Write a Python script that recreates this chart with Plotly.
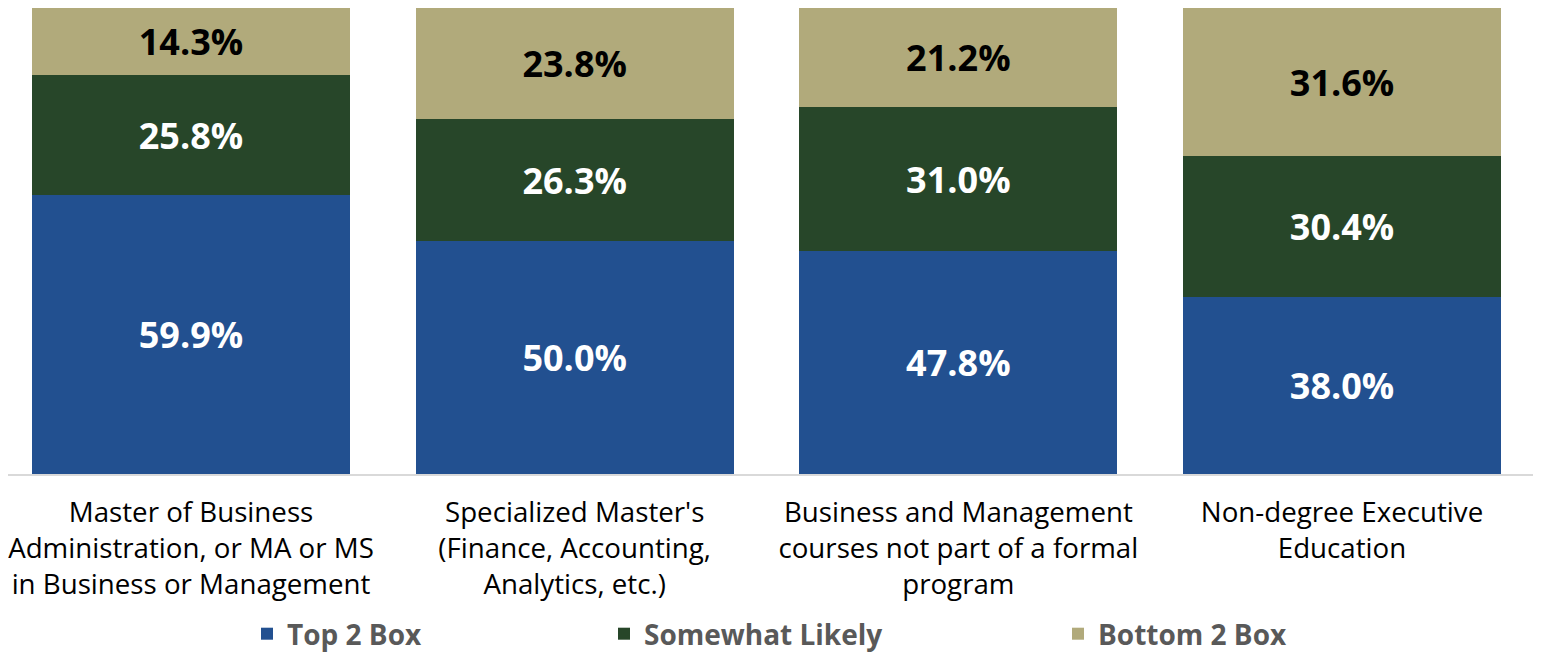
import plotly.graph_objects as go

categories = [
    "Master of Business<br>Administration, or MA or MS<br>in Business or Management",
    "Specialized Master's<br>(Finance, Accounting,<br>Analytics, etc.)",
    "Business and Management<br>courses not part of a formal<br>program",
    "Non-degree Executive<br>Education",
]
top2 = [59.9, 50.0, 47.8, 38.0]
somewhat = [25.8, 26.3, 31.0, 30.4]
bottom2 = [14.3, 23.8, 21.2, 31.6]

series_names = ["Top 2 Box", "Somewhat Likely", "Bottom 2 Box"]
series_values = [top2, somewhat, bottom2]
series_colors = ["#225090", "#274629", "#b1aa7b"]
label_colors = ["#ffffff", "#ffffff", "#000000"]
legend_ids = ["legend", "legend2", "legend3"]

FONT = "Open Sans"
# page body has an 8px margin, so the figure is drawn 8px smaller and offset
OFF = 8
W, H = 1546 - OFF, 652 - OFF
ML, MR, MT, MB = 0, 13, 0, 178
PW = W - ML - MR
PH = H - MT - MB

# category axis range so that centers land at screen x = 191 + k*383.67
step = 383.67
x0 = -(191 - OFF - ML) / step
x_range = [x0, x0 + PW / step]

fig = go.Figure()
for name, vals, col, lc, lg in zip(series_names, series_values, series_colors, label_colors, legend_ids):
    fig.add_trace(go.Bar(
        x=categories, y=vals, name=name,
        marker=dict(color=col, line=dict(width=0)),
        text=[f"{v:.1f}%" for v in vals],
        textposition="inside", insidetextanchor="middle", textangle=0,
        constraintext="none",
        textfont=dict(family=FONT, size=36, color=lc, weight="bold"),
        legend=lg,
    ))

legend_y = (PH - (634 - OFF - MT)) / PH
legend_text_x = [287, 644, 1098]
legend_common = dict(
    orientation="h", yanchor="middle", y=legend_y, xanchor="left",
    font=dict(family=FONT, size=28, color="#595959", weight="bold"),
    bgcolor="rgba(0,0,0,0)",
)
layout_legends = {}
for lg, tx in zip(legend_ids, legend_text_x):
    layout_legends[lg] = dict(legend_common, x=(tx - OFF - 40 - ML) / PW)

fig.update_layout(
    barmode="stack",
    bargap=0.171,
    width=W, height=H,
    margin=dict(l=ML, r=MR, t=MT, b=MB, pad=0, autoexpand=False),
    plot_bgcolor="white", paper_bgcolor="white",
    showlegend=True,
    xaxis=dict(
        range=x_range,
        showline=True, linecolor="#d9d9d9", linewidth=2,
        ticks="outside", ticklen=13, tickcolor="rgba(0,0,0,0)",
        tickfont=dict(family=FONT, size=27.7, color="#000000"),
        showgrid=False, zeroline=False, automargin=False,
    ),
    yaxis=dict(range=[0, 100.1], visible=False, showgrid=False, zeroline=False),
    **layout_legends,
)

fig.write_html("out.html")
